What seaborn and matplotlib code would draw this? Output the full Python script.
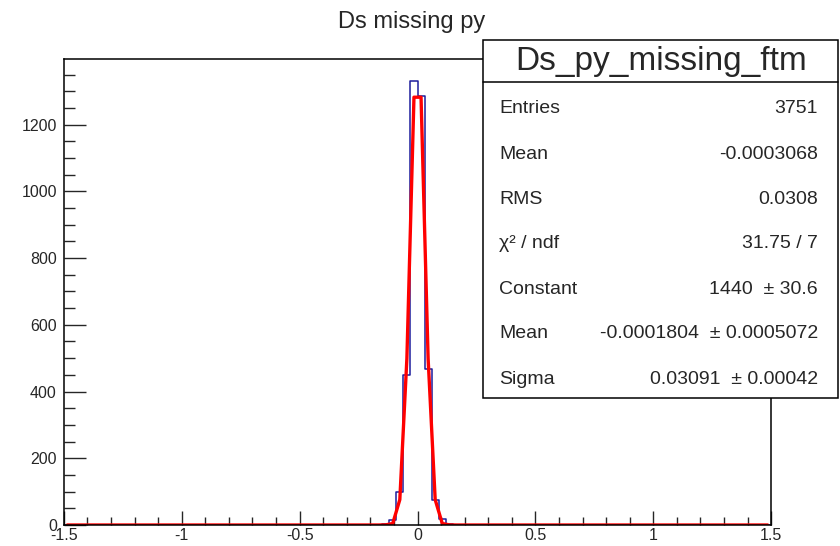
import numpy as np
import pandas as pd
import seaborn as sns
import matplotlib.pyplot as plt
from matplotlib.patches import Rectangle
from matplotlib.lines import Line2D
from matplotlib.ticker import MultipleLocator

# histogram: 100 bins on [-1.5, 1.5], only the filled ones listed
n_bins = 100
x_lo, x_hi = -1.5, 1.5
filled_bin_left = [-0.15, -0.12, -0.09, -0.06, -0.03, 0.0, 0.03, 0.06, 0.09, 0.12]
filled_counts = [2, 15, 99, 450, 1332, 1287, 468, 75, 18, 3]

# gaussian fit curve as drawn (points at bin centres, zero elsewhere)
fit_pts_x = [-0.135, -0.105, -0.075, -0.045, -0.015, 0.015, 0.045, 0.075, 0.105, 0.135]
fit_pts_y = [0.4, 4.5, 76, 499, 1282, 1282, 499, 76, 4.5, 0.4]

title = "Ds missing py"
stats_title = "Ds_py_missing_ftm"
stats_labels = ["Entries", "Mean", "RMS", "χ² / ndf", "Constant", "Mean", "Sigma"]
stats_values = ["3751", "-0.0003068", "0.0308", "31.75 / 7",
                "1440  ± 30.6", "-0.0001804  ± 0.0005072", "0.03091  ± 0.00042"]

x_ticks = [-1.5, -1, -0.5, 0, 0.5, 1, 1.5]
x_ticklabels = ["-1.5", "-1", "-0.5", "0", "0.5", "1", "1.5"]

sns.set_style("ticks")
plt.rcParams["font.family"] = ["Liberation Sans", "DejaVu Sans"]

edges = np.linspace(x_lo, x_hi, n_bins + 1)
centers = 0.5 * (edges[:-1] + edges[1:])
bw = edges[1] - edges[0]

hist_df = pd.DataFrame({"x": np.array(filled_bin_left) + bw / 2, "w": filled_counts})

fit_y = np.zeros(n_bins)
for fx, fy in zip(fit_pts_x, fit_pts_y):
    fit_y[np.argmin(np.abs(centers - fx))] = fy
fit_df = pd.DataFrame({"x": centers, "y": fit_y})

W, H = 840, 546
fig = plt.figure(figsize=(W / 100, H / 100), dpi=100)
ax = fig.add_axes([63.8 / W, (H - 525) / H, (771.2 - 63.8) / W, (525 - 58.5) / H])

sns.histplot(data=hist_df, x="x", weights="w", bins=edges.tolist(), element="step",
             fill=False, color="#1c1c9c", linewidth=1.1, ax=ax)
sns.lineplot(data=fit_df, x="x", y="y", estimator=None, color="#ff0000",
             linewidth=2.4, ax=ax)

ax.set_xlim(x_lo, x_hi)
ax.set_ylim(0, 1398)
ax.set_xlabel("")
ax.set_ylabel("")
ax.set_xticks(x_ticks)
ax.set_xticklabels(x_ticklabels)
ax.xaxis.set_minor_locator(MultipleLocator(0.1))
ax.yaxis.set_major_locator(MultipleLocator(200))
ax.yaxis.set_minor_locator(MultipleLocator(50))
ax.tick_params(axis="x", which="major", direction="in", length=10, width=1.0,
               labelsize=11.5, pad=2)
ax.tick_params(axis="x", which="minor", direction="in", length=5.5, width=1.0)
ax.tick_params(axis="y", which="major", direction="in", length=16, width=1.0,
               labelsize=11.5, pad=5)
ax.tick_params(axis="y", which="minor", direction="in", length=7.7, width=1.0)
for s in ax.spines.values():
    s.set_visible(True)
    s.set_linewidth(1.1)
    s.set_color("black")

fig.text(411.5 / W, 1 - 28.3 / H, title, ha="center", va="baseline", fontsize=17)

# stats box
bx0, bx1, by0, by1 = 483.3, 838.0, 40.0, 398.3
fig.patches.append(Rectangle((bx0 / W, 1 - by1 / H), (bx1 - bx0) / W, (by1 - by0) / H,
                             transform=fig.transFigure, facecolor="white",
                             edgecolor="black", linewidth=1.1, zorder=5))
fig.lines.append(Line2D([bx0 / W, bx1 / W], [1 - 82.3 / H, 1 - 82.3 / H],
                        transform=fig.transFigure, color="black", linewidth=1.1,
                        zorder=6))
fig.text((bx0 + bx1) / 2 / W, 1 - 70 / H, stats_title, ha="center", va="baseline",
         fontsize=24, zorder=7)
row_base = [113, 158.5, 203.5, 248.5, 293.5, 338.5, 383.5]
for lab, val, yb in zip(stats_labels, stats_values, row_base):
    fig.text(499.3 / W, 1 - yb / H, lab, ha="left", va="baseline", fontsize=14, zorder=7)
    fig.text(818 / W, 1 - yb / H, val, ha="right", va="baseline", fontsize=14, zorder=7)

fig.savefig("out.png", dpi=100, facecolor="white")
